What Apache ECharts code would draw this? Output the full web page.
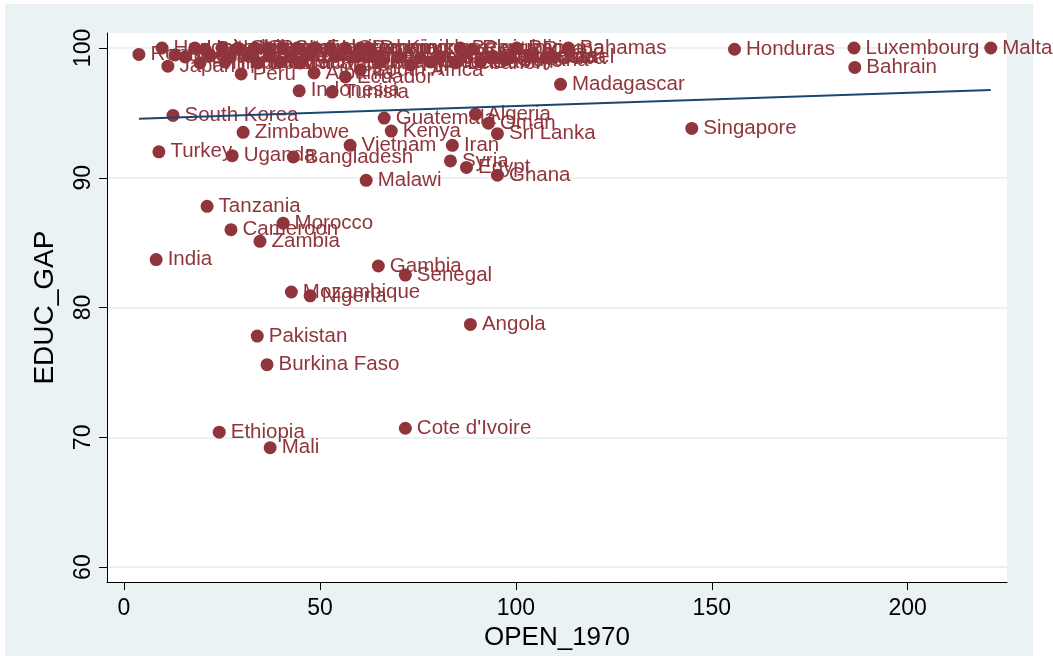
<!DOCTYPE html>
<html>
<head>
<meta charset="utf-8">
<script src="https://cdn.jsdelivr.net/npm/echarts@6/dist/echarts.min.js"></script>
<style>
html,body{margin:0;padding:0;background:#ffffff;}
#frame{position:absolute;left:5px;top:4px;width:1028px;height:652px;background:#eaf2f3;}
#chart{position:absolute;left:0;top:0;width:1053px;height:656px;}
</style>
</head>
<body>
<div id="frame"></div>
<div id="chart"></div>
<script>
// Country labels, OPEN_1970 (x) and EDUC_GAP (y)
const countries = [
  "Malta","Luxembourg","Bahrain","Honduras","Singapore","Madagascar","Bahamas",
  "Algeria","Oman","Sri Lanka","Guatemala","Kenya","Iran","Vietnam","Syria","Egypt",
  "Ghana","Malawi","Bangladesh","Uganda","Turkey","Zimbabwe","South Korea","Indonesia",
  "Tunisia","Peru","Japan","Romania","Tanzania","Morocco","Cameroon","Zambia","India",
  "Gambia","Senegal","Mozambique","Nigeria","Angola","Pakistan","Burkina Faso",
  "Ethiopia","Cote d'Ivoire","Mali",
  "Hungary","United States","Brazil","Uruguay","Chile","Greece","Portugal","Spain",
  "Italy","France","United Kingdom","Germany","Denmark","Dominican Republic","Belgium",
  "Costa Rica","Panama",
  "Sweden","Norway","Canada","Austria","New Zealand","Switzerland","Netherlands",
  "Ireland","Iceland","Cyprus","Mexico","Venezuela","Colombia","Jamaica","Paraguay",
  "Barbados","Bulgaria","Belize","Israel",
  "Philippines","Thailand","Bolivia","El Salvador","Nicaragua","Albania","Ecuador",
  "South Africa","Malaysia","Fiji","Jordan","Lebanon","Gabon","Guyana","Cuba"
];
const open1970 = [
  221.2,186.3,186.5,155.8,144.9,111.4,113.4,
  89.7,93.0,95.3,66.4,68.2,83.8,57.7,83.3,87.4,
  95.3,61.8,43.2,27.6,8.9,30.4,12.5,44.7,
  53.1,29.9,11.2,3.8,21.2,40.6,27.3,34.7,8.2,
  64.9,71.8,42.7,47.5,88.4,34.0,36.5,
  24.3,71.8,37.3,
  9.7,18.1,20.7,25.0,29.1,33.5,36.8,40.6,
  44.2,48.8,52.6,56.5,60.3,62.3,85.8,
  88.9,100.2,
  13.0,15.6,22.0,27.1,32.2,37.3,42.4,
  47.5,53.9,59.0,64.1,70.0,75.6,80.7,86.4,
  93.5,98.6,103.7,109.4,
  19.4,25.8,34.2,39.9,45.0,48.5,56.5,
  60.3,65.4,73.1,78.2,84.6,91.0,97.3,107.6
];
const educGap = [
  100.0,100.0,98.5,99.9,93.8,97.2,100.0,
  94.9,94.2,93.4,94.6,93.6,92.5,92.5,91.3,90.8,
  90.2,89.8,91.6,91.7,92.0,93.5,94.8,96.7,
  96.6,98.0,98.6,99.5,87.8,86.5,86.0,85.1,83.7,
  83.2,82.5,81.2,80.9,78.7,77.8,75.6,
  70.4,70.7,69.2,
  100.0,100.0,99.9,100.0,100.0,100.0,100.0,100.0,
  100.0,100.0,100.0,100.0,100.0,100.0,100.0,
  99.9,100.0,
  99.46,99.31,99.38,99.31,99.46,99.38,99.31,
  99.46,99.38,99.31,99.38,99.31,99.23,99.31,99.46,
  99.31,99.31,99.38,99.31,
  98.85,98.92,98.85,98.92,98.85,98.08,97.77,
  98.31,98.92,98.69,98.92,98.85,98.92,99.08,99.23
];
// Fitted line endpoints
const fitX = [3.8, 221.2];
const fitY = [94.54, 96.77];
const xTicks = [0, 50, 100, 150, 200];
const yTicks = [60, 70, 80, 90, 100];

const maroon = '#90353b';
const navy = '#1a476f';
const font = "'Liberation Sans', Arial, sans-serif";

const points = countries.map((c, i) => ({ name: c, value: [open1970[i], educGap[i]] }));
const fit = fitX.map((x, i) => [x, fitY[i]]);

const chart = echarts.init(document.getElementById('chart'), null, { renderer: 'canvas' });
chart.setOption({
  backgroundColor: 'transparent',
  animation: false,
  grid: {
    left: 107, right: 46, top: 33, bottom: 73,
    show: true, backgroundColor: '#ffffff', borderWidth: 0
  },
  xAxis: {
    type: 'value', min: -4.34, max: 225.34,
    name: 'OPEN_1970', nameLocation: 'middle', nameGap: 40,
    nameTextStyle: { color: '#000', fontSize: 26, fontFamily: font },
    axisLine: { show: true, onZero: false, lineStyle: { color: '#000', width: 1 } },
    axisTick: { show: true, length: 8, customValues: xTicks, lineStyle: { color: '#000' } },
    axisLabel: { customValues: xTicks, color: '#000', fontSize: 23, fontFamily: font, margin: 15 },
    splitLine: { show: false }
  },
  yAxis: {
    type: 'value', min: 58.846, max: 101.154,
    name: 'EDUC_GAP', nameLocation: 'middle', nameGap: 48,
    nameTextStyle: { color: '#000', fontSize: 28, fontFamily: font },
    axisLine: { show: true, onZero: false, lineStyle: { color: '#000', width: 1 } },
    axisTick: { show: true, length: 8, customValues: yTicks, lineStyle: { color: '#000' } },
    axisLabel: { customValues: yTicks, rotate: 90, color: '#000', fontSize: 23, fontFamily: font, margin: 12 },
    splitLine: { show: true, lineStyle: { color: '#eaf2f3', width: 2 } }
  },
  series: [
    {
      type: 'scatter',
      data: points,
      symbol: 'circle',
      symbolSize: 13,
      itemStyle: { color: maroon, opacity: 1 },
      label: {
        show: true, position: 'right', distance: 5,
        formatter: p => p.name,
        color: maroon, fontSize: 20.5, fontFamily: font
      },
      z: 3
    },
    {
      type: 'line',
      data: fit,
      showSymbol: false,
      symbol: 'none',
      lineStyle: { color: navy, width: 2 },
      z: 4
    }
  ]
});
</script>
</body>
</html>
